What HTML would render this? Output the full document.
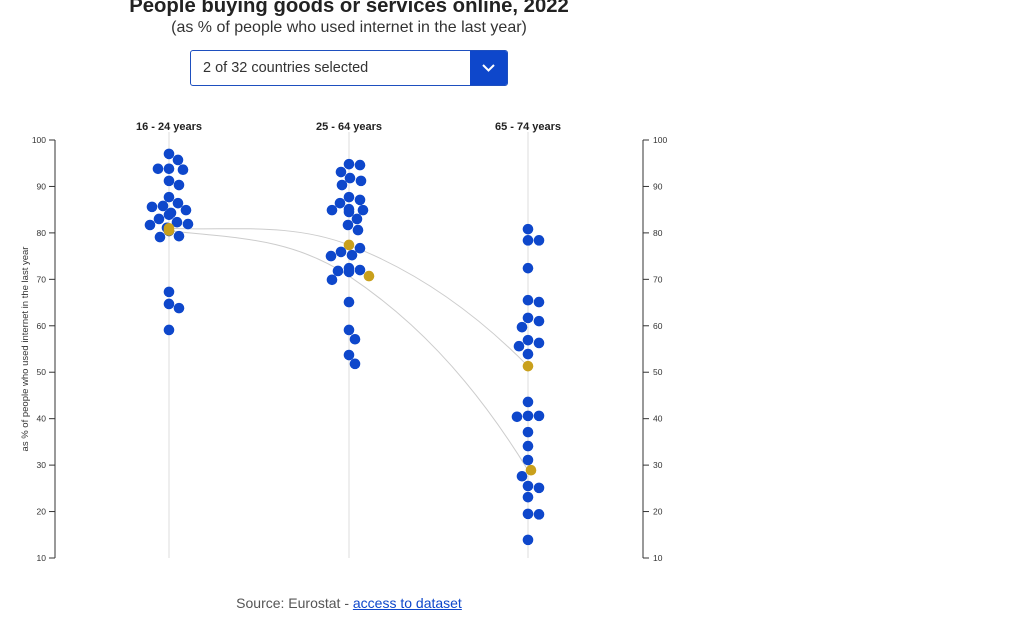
<!DOCTYPE html>
<html><head><meta charset="utf-8"><style>
body{margin:0;width:1024px;height:626px;background:#fff;font-family:"Liberation Sans",Arial,sans-serif;overflow:hidden;position:relative}
.title{position:absolute;left:0;width:698px;text-align:center;top:-5px;font-size:20.3px;font-weight:bold;color:#222}
.sub{position:absolute;left:0;width:698px;text-align:center;top:19px;font-size:16px;color:#333}
.dd{position:absolute;left:190px;top:50px;width:316px;height:34px;border:1px solid #1e4fbf;border-radius:3px;background:#fff}
.dd span{position:absolute;left:12px;top:9px;font-size:14.5px;color:#333}
.btn{position:absolute;right:0;top:0;width:37px;height:34px;background:#0e47cb;border-radius:0 2px 2px 0}
.src{position:absolute;left:0;width:698px;text-align:center;top:595px;font-size:14px;color:#555}
.src a{color:#0e47cb;text-decoration:underline}
</style></head><body>
<div class="title">People buying goods or services online, 2022</div>
<div class="sub">(as % of people who used internet in the last year)</div>
<div class="dd"><span>2 of 32 countries selected</span>
<div class="btn"><svg width="37" height="34"><polyline points="13,14 18.5,19.5 24,14" fill="none" stroke="#fff" stroke-width="2"/></svg></div></div>
<svg id="chart" width="1024" height="626" style="position:absolute;left:0;top:0"></svg>
<div class="src">Source: Eurostat - <a>access to dataset</a></div>
<script>
const categories=["16 - 24 years","25 - 64 years","65 - 74 years"];
const ticks=[10,20,30,40,50,60,70,80,90,100];
const col1=[97.0,95.7,93.8,93.8,93.6,91.2,90.3,87.7,86.4,85.8,85.6,84.9,84.3,83.9,83.0,82.3,81.9,81.7,81.1,80.4,79.3,79.1,67.3,64.7,63.8,59.1];
const col2=[94.8,94.6,93.1,91.8,91.2,90.3,87.7,87.1,86.4,85.1,84.9,84.9,84.5,83.0,81.7,80.6,76.7,75.9,75.2,75.0,72.4,72.0,71.8,71.6,69.9,65.1,59.1,57.1,53.7,51.8];
const col3=[80.8,78.4,78.4,72.4,65.5,65.1,61.7,61.0,59.7,56.9,56.3,55.6,53.9,43.6,40.6,40.4,40.6,37.1,34.1,31.1,27.6,25.5,25.1,23.1,19.5,19.4,13.9];
const selA=[81.0,77.4,51.3];
const selB=[80.5,70.7,28.9];
const NS="http://www.w3.org/2000/svg";
const svg=document.getElementById('chart');
const colX=[169,349,528];
const y=v=>140+(100-v)*418/90;
function mk(t,a,p){const e=document.createElementNS(NS,t);for(const k in a)e.setAttribute(k,a[k]);(p||svg).appendChild(e);return e;}
const axL=mk('g',{});
const axR=mk('g',{});
mk('line',{x1:55,x2:55,y1:y(100),y2:y(10),stroke:'#333'},axL);
mk('line',{x1:643,x2:643,y1:y(100),y2:y(10),stroke:'#333'},axR);
ticks.forEach(t=>{
 mk('line',{x1:49,x2:55,y1:y(t),y2:y(t),stroke:'#333'},axL);
 const a=mk('text',{x:46,y:y(t)+3,'font-size':8.5,'text-anchor':'end',fill:'#333'},axL);a.textContent=t;
 mk('line',{x1:643,x2:649,y1:y(t),y2:y(t),stroke:'#333'},axR);
 const b=mk('text',{x:653,y:y(t)+3,'font-size':8.5,fill:'#333'},axR);b.textContent=t;
});
const yt=mk('text',{transform:'translate(28,349) rotate(-90)','text-anchor':'middle','font-size':9.5,fill:'#333'});
yt.textContent='as % of people who used internet in the last year';


categories.forEach((c,i)=>{
 mk('line',{x1:colX[i],x2:colX[i],y1:y(100)-8,y2:y(10),stroke:'#ddd'});
 const t=mk('text',{x:colX[i],y:130,'text-anchor':'middle','font-size':11,'font-weight':'bold',fill:'#222'});t.textContent=c;
 
 
});
[selA,selB].forEach(s=>{
 const P=s.map((v,i)=>[colX[i],y(v)]);
 const n=P.length;const m=[];
 for(let i=0;i<n;i++){
  if(i===0)m.push((P[1][1]-P[0][1])/(P[1][0]-P[0][0])*0.5);
  else if(i===n-1)m.push((P[i][1]-P[i-1][1])/(P[i][0]-P[i-1][0])*1.5);
  else m.push((P[i+1][1]-P[i-1][1])/(P[i+1][0]-P[i-1][0]));
 }
 let d=`M${P[0][0]},${P[0][1]}`;
 for(let i=0;i<n-1;i++){const h=(P[i+1][0]-P[i][0])/3;
  d+=` C${P[i][0]+h},${P[i][1]+m[i]*h} ${P[i+1][0]-h},${P[i+1][1]-m[i+1]*h} ${P[i+1][0]},${P[i+1][1]}`;}
 const p=mk('path',{d:d,fill:'none',stroke:'#ccc','stroke-width':1});
 
 
});
const r=5.3;
function swarm(vals,cx){
 const placed=[];
 [...vals].sort((a,b)=>b.v-a.v).forEach(v=>{
  const yy=y(v.v);let best=0;
  for(let k=0;k<40;k++){const off=(k%2?1:-1)*Math.ceil(k/2);
   if(placed.every(p=>(p.x-(cx+off))**2+(p.y-yy)**2>=(2*r)**2)){best=off;break;}}
  placed.push({x:cx+best,y:yy,g:v.g});
 });
 return placed;
}
[col1,col2,col3].forEach((c,i)=>{
 const vals=c.map(v=>({v:v,g:false}));vals.push({v:selA[i],g:true});vals.push({v:selB[i],g:true});
 const pl=swarm(vals,colX[i]);
 pl.sort((a,b)=>(a.g?1:0)-(b.g?1:0)).forEach(p=>{
  const e=mk('circle',{cx:p.x,cy:p.y,r:r,fill:p.g?'#c9a01c':'#0e47cb'});
  
  
 });
});
</script>
</body></html>
